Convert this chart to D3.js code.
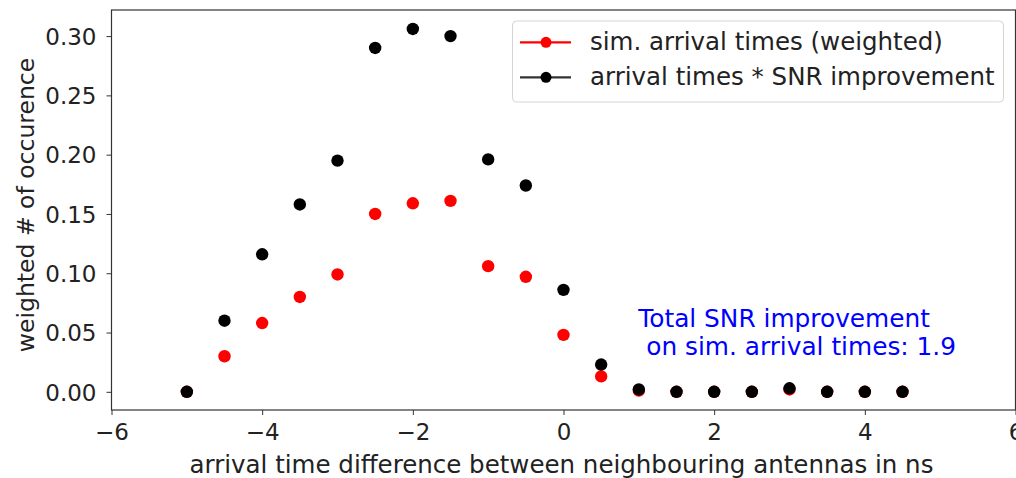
<!DOCTYPE html>
<html>
<head>
<meta charset="utf-8">
<script src="https://cdn.jsdelivr.net/npm/d3@7"></script>
<style>
  html, body { margin: 0; padding: 0; background: #fff; }
  svg { display: block; font-family: "DejaVu Sans", sans-serif; }
</style>
</head>
<body>
<svg id="chart" width="1016" height="478"></svg>
<script>
// ---- data ----
const timeDiffs = [-5, -4.5, -4, -3.5, -3, -2.5, -2, -1.5, -1, -0.5, 0, 0.5, 1, 1.5, 2, 2.5, 3, 3.5, 4, 4.5];
const simArrival = [0.000, 0.030, 0.058, 0.080, 0.099, 0.150, 0.159, 0.161, 0.106, 0.097, 0.048, 0.013, 0.001, 0.000, 0.000, 0.000, 0.002, 0.000, 0.000, 0.000];
const snrImproved = [0.000, 0.060, 0.116, 0.158, 0.195, 0.290, 0.306, 0.300, 0.196, 0.174, 0.086, 0.023, 0.002, 0.000, 0.000, 0.000, 0.003, 0.000, 0.000, 0.000];
const xTicks = [-6, -4, -2, 0, 2, 4, 6];
const yTicks = [0.00, 0.05, 0.10, 0.15, 0.20, 0.25, 0.30];
const seriesNames = ["sim. arrival times (weighted)", "arrival times * SNR improvement"];
const seriesColors = ["#ff0000", "#000000"];
const annotationLines = ["Total SNR improvement", " on sim. arrival times: 1.9"];
const xLabel = "arrival time difference between neighbouring antennas in ns";
const yLabel = "weighted # of occurence";

// ---- layout ----
const W = 1016, H = 478;
const plot = { left: 111.5, right: 1015.5, top: 10, bottom: 410 };
const textColor = "#222";
const svg = d3.select("#chart");

const x = d3.scaleLinear().domain([-6, 6]).range([plot.left, plot.right]);
const y = d3.scaleLinear().domain([-0.01533, 0.322]).range([plot.bottom, plot.top]);

const fmtMinus = d => (d < 0 ? "\u2212" + Math.abs(d) : String(d));

// x axis
const xAxis = svg.append("g")
  .attr("transform", `translate(0,${plot.bottom})`)
  .call(d3.axisBottom(x).tickValues(xTicks).tickFormat(fmtMinus).tickSize(5).tickPadding(9));
xAxis.select(".domain").remove();
xAxis.selectAll("line").attr("stroke", "#333").attr("stroke-width", 1);
xAxis.selectAll("text").attr("fill", textColor).attr("font-size", 23)
  .attr("font-family", "DejaVu Sans").attr("dy", "0.71em");

// y axis
const yAxis = svg.append("g")
  .attr("transform", `translate(${plot.left},0)`)
  .call(d3.axisLeft(y).tickValues(yTicks).tickFormat(d3.format(".2f")).tickSize(5).tickPadding(10));
yAxis.select(".domain").remove();
yAxis.selectAll("line").attr("stroke", "#333").attr("stroke-width", 1);
yAxis.selectAll("text").attr("fill", textColor).attr("font-size", 23)
  .attr("font-family", "DejaVu Sans").attr("dy", "0.36em");

// frame
svg.append("rect")
  .attr("x", plot.left).attr("y", plot.top)
  .attr("width", plot.right - plot.left).attr("height", plot.bottom - plot.top)
  .attr("fill", "none").attr("stroke", "#333").attr("stroke-width", 1.2);

// points
const series = [simArrival, snrImproved];
series.forEach((vals, si) => {
  svg.append("g").selectAll("circle")
    .data(timeDiffs.map((t, i) => ({ t, v: vals[i] })))
    .join("circle")
    .attr("cx", d => x(d.t))
    .attr("cy", d => y(d.v))
    .attr("r", 6.2)
    .attr("fill", seriesColors[si]);
});

// annotation
const ann = svg.append("text")
  .attr("fill", "#0000ff").attr("font-size", 24.8)
  .attr("xml:space", "preserve")
  .style("white-space", "pre");
annotationLines.forEach((line, i) => {
  ann.append("tspan")
    .attr("x", x(1.0) - 0.5)
    .attr("y", y(0.031) - (annotationLines.length - 1 - i) * 28)
    .text(line);
});

// axis labels
svg.append("text")
  .attr("x", (plot.left + plot.right) / 2 - 2)
  .attr("y", 473)
  .attr("text-anchor", "middle")
  .attr("fill", textColor).attr("font-size", 24.5)
  .text(xLabel);

svg.append("text")
  .attr("transform", `translate(33.5,${(plot.top + plot.bottom) / 2 - 5}) rotate(-90)`)
  .attr("text-anchor", "middle")
  .attr("fill", textColor).attr("font-size", 23.5)
  .text(yLabel);

// legend
const lg = svg.append("g");
lg.append("rect")
  .attr("x", 512.5).attr("y", 21).attr("width", 491).attr("height", 81)
  .attr("rx", 4).attr("fill", "#fff").attr("fill-opacity", 0.8)
  .attr("stroke", "#d5d5d5").attr("stroke-width", 1);
const rowsY = [42.3, 77.3];
seriesNames.forEach((name, i) => {
  const g = lg.append("g");
  g.append("line").attr("x1", 520).attr("x2", 571)
    .attr("y1", rowsY[i]).attr("y2", rowsY[i])
    .attr("stroke", i === 0 ? seriesColors[i] : "#333").attr("stroke-width", 2.2);
  g.append("circle").attr("cx", 546).attr("cy", rowsY[i]).attr("r", 5.5)
    .attr("fill", seriesColors[i]);
  g.append("text").attr("x", 590).attr("y", rowsY[i]).attr("dy", "0.32em")
    .attr("fill", textColor).attr("font-size", 24.5).text(name);
});
</script>
</body>
</html>
